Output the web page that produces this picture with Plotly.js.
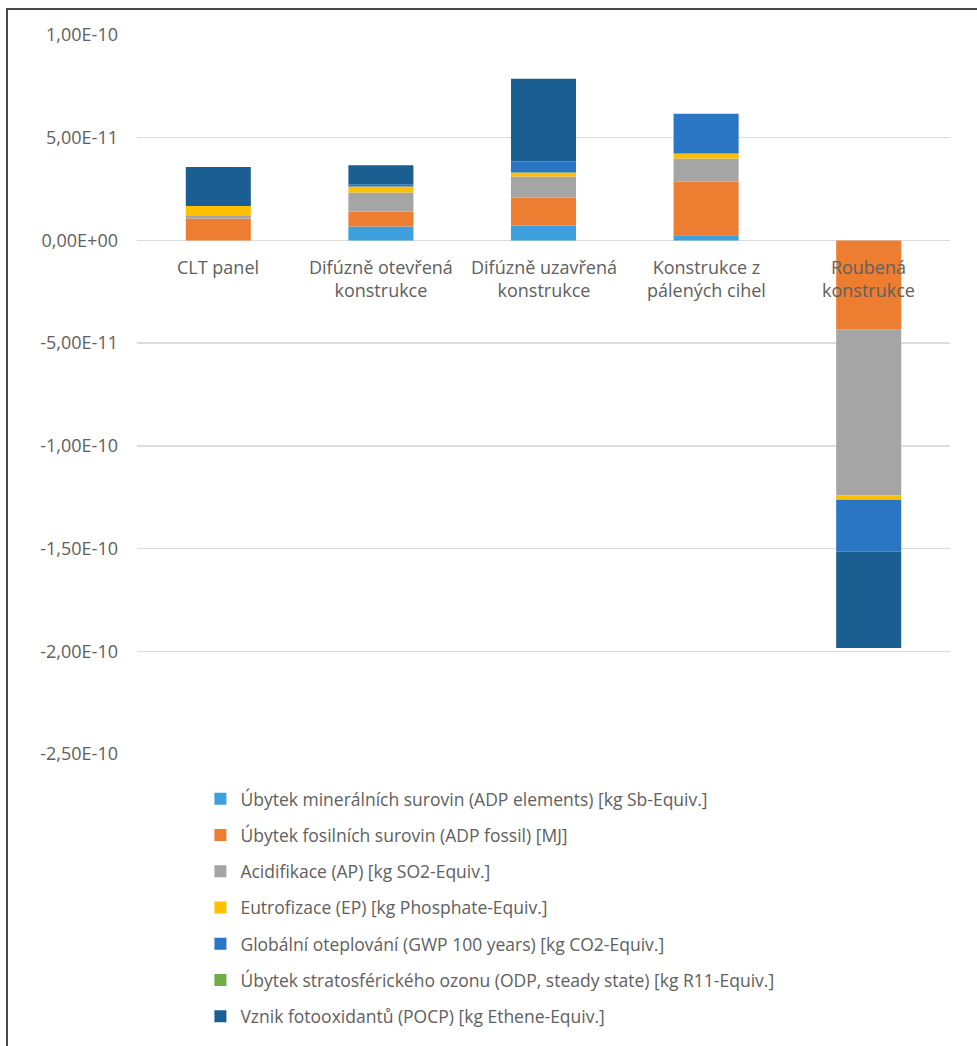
<!DOCTYPE html>
<html>
<head>
<meta charset="utf-8">
<script src="https://cdn.plot.ly/plotly-3.0.1.min.js"></script>
<style>
  html, body { margin: 0; padding: 0; background: #ffffff; }
  #wrap { position: relative; width: 977px; height: 1046px; }
  #frame { position: absolute; left: 6px; top: 8px; right: 0; bottom: 0;
           border-left: 2px solid #4a4a4a; border-top: 2px solid #4a4a4a; pointer-events: none; }
  #chart { position: absolute; left: 0; top: 0; width: 977px; height: 1046px; }
</style>
</head>
<body>
<div id="wrap">
  <div id="chart"></div>
  <div id="frame"></div>
</div>
<script>
// Construction variants compared
const categories = [
  'CLT panel',
  'Difúzně otevřená konstrukce',
  'Difúzně uzavřená konstrukce',
  'Konstrukce z pálených cihel',
  'Roubená konstrukce'
];
const categoryLabels = [
  'CLT panel',
  'Difúzně otevřená<br>konstrukce',
  'Difúzně uzavřená<br>konstrukce',
  'Konstrukce z<br>pálených cihel',
  'Roubená<br>konstrukce'
];

// Impact category names
const seriesNames = [
  'Úbytek minerálních surovin (ADP elements) [kg Sb-Equiv.]',
  'Úbytek fosilních surovin (ADP fossil) [MJ]',
  'Acidifikace (AP) [kg SO2-Equiv.]',
  'Eutrofizace (EP) [kg Phosphate-Equiv.]',
  'Globální oteplování (GWP 100 years) [kg CO2-Equiv.]',
  'Úbytek stratosférického ozonu (ODP, steady state) [kg R11-Equiv.]',
  'Vznik fotooxidantů (POCP) [kg Ethene-Equiv.]'
];

// Normalised values per construction
const adpElements = [0, 0.68e-11, 0.73e-11, 0.25e-11, 0];
const adpFossil   = [1.07e-11, 0.73e-11, 1.36e-11, 2.62e-11, -4.32e-11];
const ap          = [0.15e-11, 0.92e-11, 1.02e-11, 1.12e-11, -8.10e-11];
const ep          = [0.45e-11, 0.30e-11, 0.20e-11, 0.24e-11, -0.20e-11];
const gwp         = [0, 0.10e-11, 0.53e-11, 1.94e-11, -2.52e-11];
const odp         = [0, 0, 0, 0, 0];
const pocp        = [1.90e-11, 0.93e-11, 4.03e-11, 0, -4.70e-11];

// Value axis ticks
const yTickVals = [1e-10, 5e-11, 0, -5e-11, -1e-10, -1.5e-10, -2e-10, -2.5e-10];
const yTickText = ['1,00E-10', '5,00E-11', '0,00E+00', '-5,00E-11', '-1,00E-10', '-1,50E-10', '-2,00E-10', '-2,50E-10'];

const seriesValues = [adpElements, adpFossil, ap, ep, gwp, odp, pocp];
const seriesColors = ['#3d9fdc', '#ed7d31', '#a5a5a5', '#ffc000', '#2a76c4', '#70ad47', '#1a5e92'];

const textColor = '#606060';
const fontFamily = '"Open Sans", "Noto Sans", sans-serif';

const traces = seriesNames.map((name, i) => ({
  type: 'bar',
  name: name,
  x: categories,
  y: seriesValues[i],
  legendgroup: 'g' + i,
  marker: { color: seriesColors[i], line: { width: 0 } },
  hoverinfo: 'skip'
}));

const annotations = categories.map((c, i) => ({
  x: c, y: 0, xref: 'x', yref: 'y',
  text: categoryLabels[i],
  showarrow: false,
  yanchor: 'top',
  yshift: -13,
  font: { family: fontFamily, size: 18, color: textColor }
}));

const layout = {
  width: 977,
  height: 1046,
  margin: { l: 137, r: 27, t: 35, b: 291 },
  paper_bgcolor: '#ffffff',
  plot_bgcolor: '#ffffff',
  barmode: 'relative',
  bargap: 0.6,
  showlegend: true,
  font: { family: fontFamily, size: 18, color: textColor },
  xaxis: {
    type: 'category',
    showticklabels: false,
    showgrid: false,
    zeroline: false,
    showline: false,
    ticks: ''
  },
  yaxis: {
    range: [-2.5e-10, 1e-10],
    tickvals: yTickVals,
    ticktext: yTickText,
    ticks: '',
    ticklabelstandoff: 18,
    showgrid: true,
    gridcolor: '#dcdcdc',
    gridwidth: 1.5,
    zeroline: false,
    showline: false,
    tickfont: { family: fontFamily, size: 18, color: textColor }
  },
  legend: {
    orientation: 'v',
    x: 0.078,
    xanchor: 'left',
    y: -0.036,
    yanchor: 'top',
    traceorder: 'grouped',
    tracegroupgap: 10.5,
    bgcolor: 'rgba(0,0,0,0)',
    font: { family: fontFamily, size: 17.5, color: textColor },
    itemwidth: 30
  },
  annotations: annotations
};

Plotly.newPlot('chart', traces, layout, { staticPlot: true, displayModeBar: false });
</script>
</body>
</html>
